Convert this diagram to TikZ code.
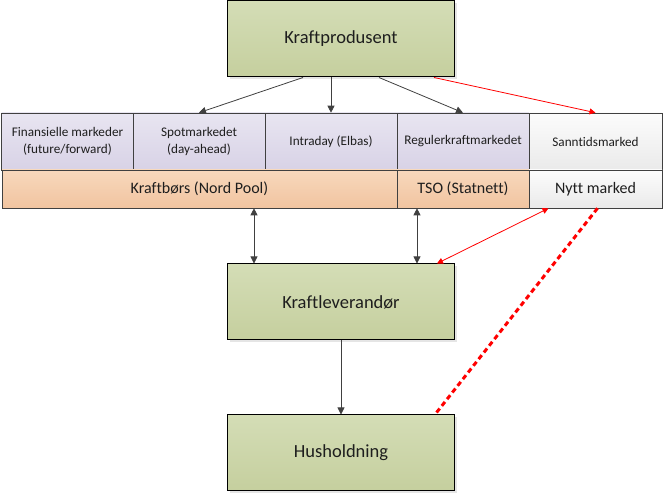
\documentclass[tikz,border=0pt]{standalone}
\usepackage{fontspec}
\setmainfont[Ligatures=NoCommon]{Carlito}
\usepackage{tikz}
\usetikzlibrary{arrows.meta}
\usetikzlibrary{shadows}
\definecolor{grønnTop}{RGB}{212,221,182}
\definecolor{grønnBunn}{RGB}{197,207,158}
\definecolor{lillaTop}{RGB}{232,229,241}
\definecolor{lillaBunn}{RGB}{216,210,230}
\definecolor{oransjeTop}{RGB}{248,216,188}
\definecolor{oransjeBunn}{RGB}{241,196,160}
\definecolor{hvitTop}{RGB}{252,252,252}
\definecolor{hvitBunn}{RGB}{234,234,234}
\definecolor{pil}{RGB}{64,64,64}
\definecolor{tekst}{RGB}{30,30,30}
\tikzset{
	aktor/.style={draw=black,line width=1pt,top color=grønnTop,bottom color=grønnBunn,
		minimum width=227,minimum height=76,inner sep=0pt,font=\fontsize{18.5}{20}\selectfont,
		text=tekst,drop shadow={shadow xshift=2pt,shadow yshift=-2pt,fill=gray!40}},
	marked/.style={draw=pil,line width=0.6pt,top color=lillaTop,bottom color=lillaBunn,
		minimum width=132,minimum height=57,inner sep=0pt,align=center,
		font=\fontsize{13.2}{17}\selectfont,text=tekst},
	bors/.style={draw=pil,line width=0.6pt,top color=oransjeTop,bottom color=oransjeBunn,
		minimum height=38,inner sep=0pt,font=\fontsize{16}{18}\selectfont,text=tekst},
	pilen/.style={draw=pil,line width=0.8pt,-{Triangle[width=7pt,length=7pt]}},
	dobbelpil/.style={draw=pil,line width=0.8pt,{Triangle[width=7pt,length=7pt]}-{Triangle[width=7pt,length=7pt]}},
	rodpil/.style={draw=red,line width=0.8pt,-{Triangle[width=6pt,length=6pt]}}
}
\begin{document}
\begin{tikzpicture}[x=1pt,y=-1pt]
			\useasboundingbox (0,0) rectangle (665,494);
			% aktorene
			\node[aktor] (prod) at (341,39) {Kraftprodusent};
			\node[aktor] (lev) at (341,302) {Kraftleverandør};
			\node[aktor] (hus) at (341,453) {Husholdning};
			% markedene
			\node[marked] (fin) at (67.5,141.5) {Finansielle markeder\\(future/forward)};
			\node[marked] (spot) at (199,141.5) {Spotmarkedet\\(day-ahead)};
			\node[marked] (intra) at (331,141.5) {Intraday (Elbas)};
			\node[marked] (reg) at (463,141.5) {Regulerkraftmarkedet};
			\node[marked,top color=hvitTop,bottom color=hvitBunn,minimum width=133] (sann) at (595.5,141.5) {Sanntidsmarked};
			\node[bors,minimum width=395] (borsen) at (199.5,189) {Kraftbørs (Nord Pool)};
			\node[bors,minimum width=132] (tso) at (463,189) {TSO (Statnett)};
			\node[bors,top color=hvitTop,bottom color=hvitBunn,minimum width=133] (nytt) at (595.5,189) {Nytt marked};
			% piler
			\draw[pilen] ([xshift=-38]prod.south) -- (spot.north);
			\draw[pilen] (intra.north |- prod.south) -- (intra.north);
			\draw[pilen] ([xshift=38]prod.south) -- (reg.north);
			\draw[rodpil] ([xshift=93]prod.south) -- (sann.north);
			\coordinate (a1) at ([xshift=-87]lev.north);
			\coordinate (a2) at ([xshift=76]lev.north);
			\draw[dobbelpil] (a1 |- borsen.south) -- (a1);
			\draw[dobbelpil] (a2 |- tso.south) -- (a2);
			\draw[rodpil,{Triangle[width=6pt,length=6pt]}-{Triangle[width=6pt,length=6pt]}] ([xshift=-47]nytt.south) -- ([xshift=-18]lev.north east);
			\draw[red,line width=3pt,dash pattern=on 5pt off 3.5pt] ([xshift=2]nytt.south) -- ([xshift=-20]hus.north east);
			\draw[pilen] (lev.south) -- (hus.north);
		\end{tikzpicture}
\end{document}
